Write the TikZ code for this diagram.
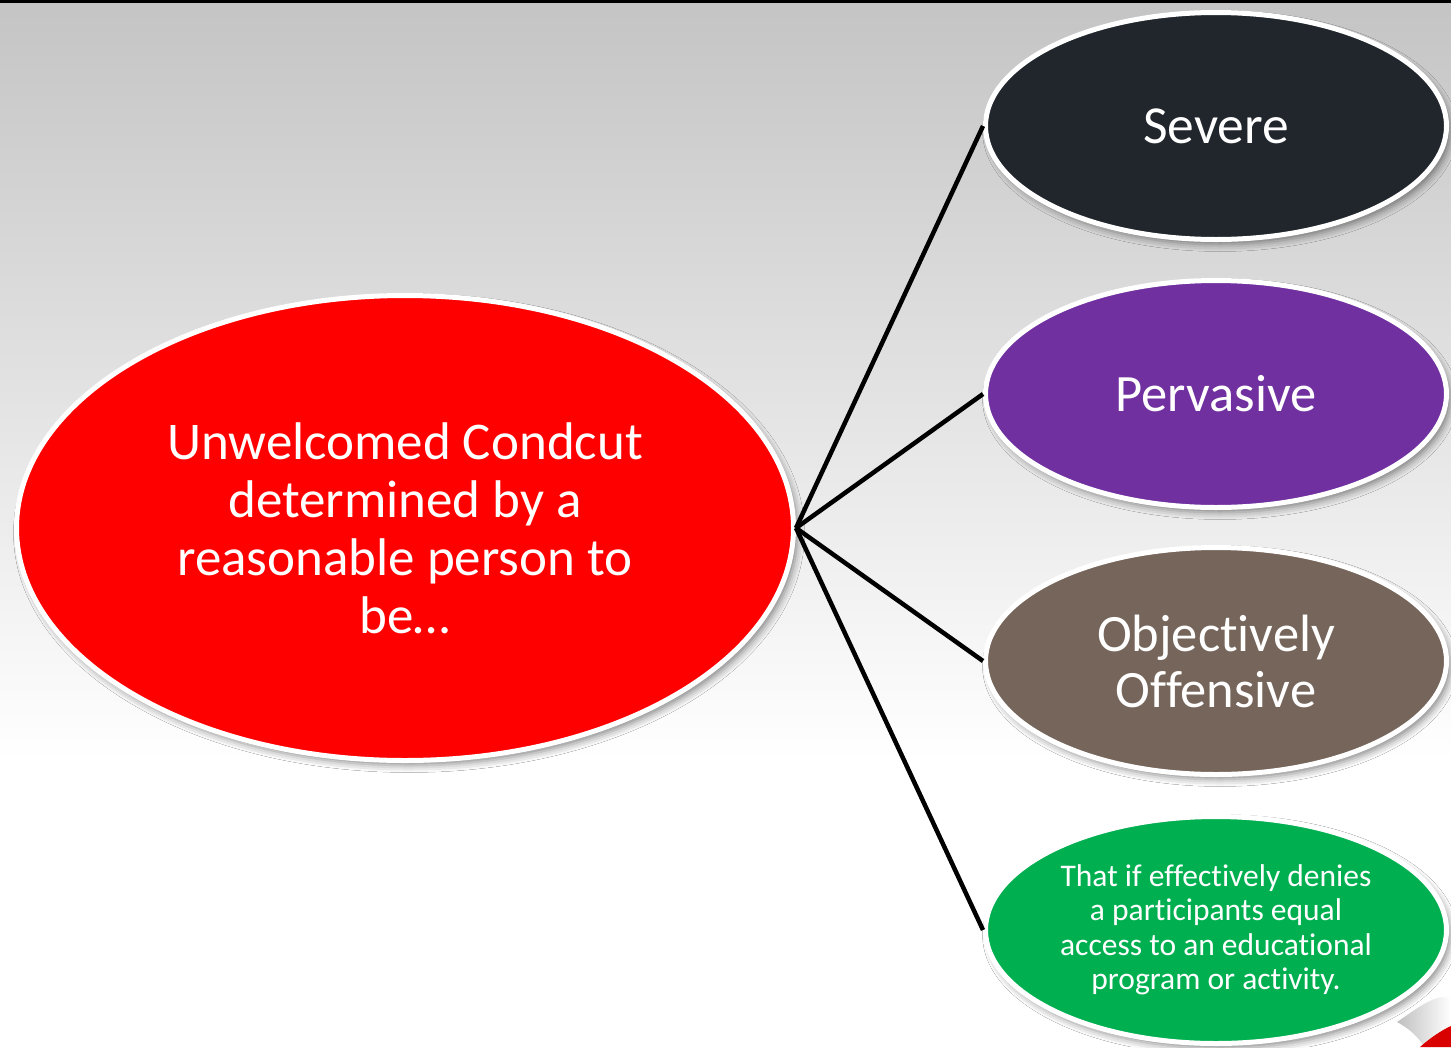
\documentclass[tikz,border=0pt]{standalone}
\usepackage{fontspec}
\setmainfont{Carlito}[Ligatures=NoCommon]
\usetikzlibrary{shapes.geometric,shadows,shadows.blur}
\definecolor{cRed}{HTML}{FF0000}
\definecolor{cDark}{HTML}{21262D}
\definecolor{cPurple}{HTML}{7030A0}
\definecolor{cBrown}{HTML}{75655A}
\definecolor{cGreen}{HTML}{00B050}
\tikzset{
  bubble/.style={ellipse, draw=white, line width=5pt, text=white, align=center, inner sep=0pt,
    blur shadow={shadow xshift=4pt, shadow yshift=-5pt, shadow blur radius=7pt, shadow opacity=45}},
  small/.style={bubble, minimum width=461pt, minimum height=227pt},
  link/.style={line width=4.5pt, black}
}
\begin{document}
\begin{tikzpicture}[x=1pt,y=-1pt]
\useasboundingbox (0,0) rectangle (1451,1047);
\fill[white] (0,0) rectangle (1451,1047);
\shade[top color=black!23, bottom color=white] (0,3) rectangle (1451,760);
\fill[black] (0,0) rectangle (1451,3);
% page curl
\shade[left color=black!25, right color=white] (1397,1022) .. controls (1412,1012) and (1428,999) .. (1442,997) .. controls (1447,997) and (1451,999) .. (1451,1002) -- (1451,1047) -- (1424,1047) .. controls (1418,1036) and (1408,1028) .. (1397,1022) -- cycle;
\fill[red!85!black] (1420,1047) .. controls (1430,1038) and (1442,1030) .. (1451,1026) -- (1451,1047) -- cycle;
% nodes
\node[bubble, fill=cRed, minimum width=777pt, minimum height=465pt,
  font=\fontsize{53}{58}\selectfont] (main) at (405,528)
  {Unwelcomed Condcut\\determined by a\\reasonable person to\\be\ldots};
\node[small, fill=cDark, font=\fontsize{53.5}{58}\selectfont] (sev) at (1216,126) {Severe};
\node[small, fill=cPurple, font=\fontsize{52.5}{58}\selectfont] (per) at (1216,394) {Pervasive};
\node[small, fill=cBrown, font=\fontsize{52.5}{56}\selectfont] (obj) at (1216,661) {Objectively\\Offensive};
\node[small, fill=cGreen, font=\fontsize{31.5}{34.5}\selectfont] (den) at (1216,930)
  {That if effectively denies\\a participants equal\\access to an educational\\program or activity.};
% connectors
\draw[link] (main.east) -- (sev.west);
\draw[link] (main.east) -- (per.west);
\draw[link] (main.east) -- (obj.west);
\draw[link] (main.east) -- (den.west);
\end{tikzpicture}
\end{document}
